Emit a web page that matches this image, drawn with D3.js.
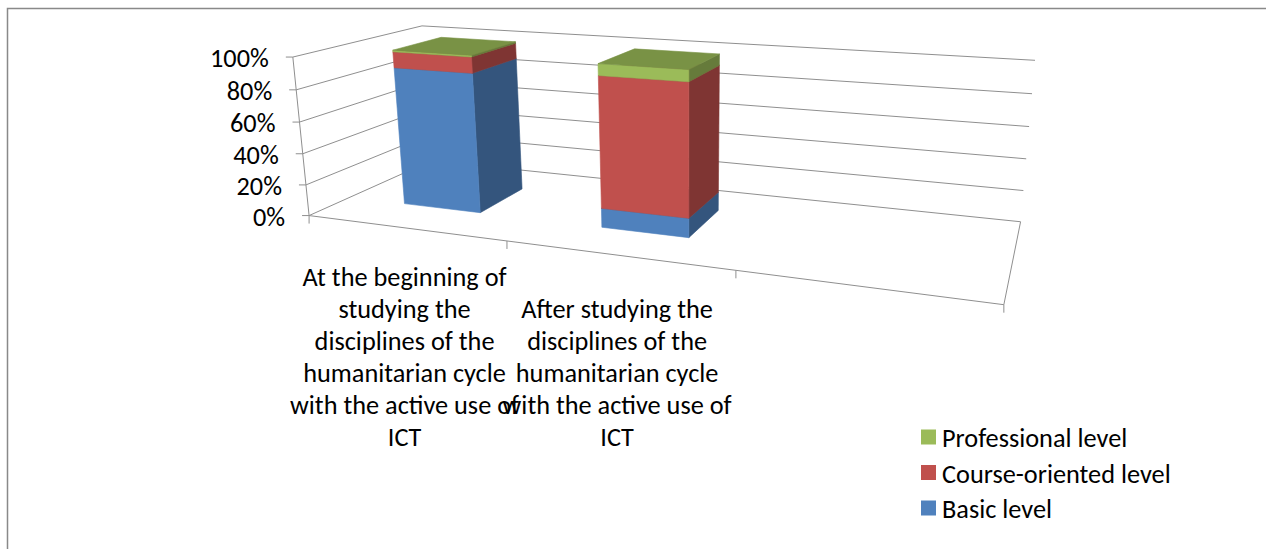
<!DOCTYPE html>
<html>
<head>
<meta charset="utf-8">
<script src="https://cdn.jsdelivr.net/npm/d3@7"></script>
<style>
  html, body { margin: 0; padding: 0; background: #fff; }
  svg { display: block; }
  text { font-family: Carlito, Calibri, Lato, sans-serif; fill: #000; }
</style>
</head>
<body>
<svg id="chart" width="1266" height="549"></svg>
<script>
(function () {
    'use strict';

    // categories (the third slot is empty in the original chart)
    var categories = [
        'At the beginning of\nstudying the\ndisciplines of the\nhumanitarian cycle\nwith the active use of\nICT',
        'After studying the\ndisciplines of the\nhumanitarian cycle\nwith the active use of\nICT',
        ''
    ];
    var seriesNames = ['Basic level', 'Course-oriented level', 'Professional level'];
    var basicLevel = [89, 12, 0];
    var courseLevel = [10, 81, 0];
    var professionalLevel = [1, 7, 0];
    var seriesColors = ['#4F81BD', '#C0504D', '#9BBB59'];
    var valueTicks = [0, 0.2, 0.4, 0.6, 0.8, 1];

    var width = 1266;
    var height = 549;
    var fontSize = 26.3;
    var gridColor = '#8f8f8f';

    var svg = d3.select('#chart');

    // screen positions of a few corners of the 3D plot box, used to fit the
    // perspective camera  [X (category slots), Y (0..1), Z (depth), px, py]
    var anchors = [
        [0, 0, 0, 310, 214],
        [0, 1, 0, 292, 57],
        [1, 0, 0, 508, 242],
        [2, 0, 0, 736, 272],
        [3, 0, 0, 1003, 305],
        [0, 0, 1, 430, 161],
        [0, 1, 1, 423, 27],
        [3, 1, 1, 1035, 60],
        [3, 0, 1, 1021, 221],
        [0, 0.6, 0, 299, 121],
        [3, 0.6, 1, 1029, 126]
    ];

    var P = fitProjection(anchors);

    function fitProjection(pairs) {
        var n = 11;
        var M = [];
        for (var i = 0; i < n; i++) {
            M.push(new Array(n + 1).fill(0));
        }
        function addRow(r, b) {
            for (var i = 0; i < n; i++) {
                for (var j = 0; j < n; j++) {
                    M[i][j] += r[i] * r[j];
                }
                M[i][n] += r[i] * b;
            }
        }
        pairs.forEach(function (p) {
            var X = p[0], Y = p[1], Z = p[2], u = p[3], v = p[4];
            addRow([X, Y, Z, 1, 0, 0, 0, 0, -u * X, -u * Y, -u * Z], u);
            addRow([0, 0, 0, 0, X, Y, Z, 1, -v * X, -v * Y, -v * Z], v);
        });
        // gauss elimination
        for (var c = 0; c < n; c++) {
            var piv = c;
            for (var r = c + 1; r < n; r++) {
                if (Math.abs(M[r][c]) > Math.abs(M[piv][c])) piv = r;
            }
            var tmp = M[c]; M[c] = M[piv]; M[piv] = tmp;
            for (var r2 = 0; r2 < n; r2++) {
                if (r2 === c) continue;
                var f = M[r2][c] / M[c][c];
                for (var k = c; k <= n; k++) M[r2][k] -= f * M[c][k];
            }
        }
        var sol = [];
        for (var s = 0; s < n; s++) sol.push(M[s][n] / M[s][s]);
        return sol;
    }

    function project(X, Y, Z) {
        var w = P[8] * X + P[9] * Y + P[10] * Z + 1;
        return [
            (P[0] * X + P[1] * Y + P[2] * Z + P[3]) / w,
            (P[4] * X + P[5] * Y + P[6] * Z + P[7]) / w
        ];
    }

    function drawLine(group, a, b, color) {
        var p = project(a[0], a[1], a[2]);
        var q = project(b[0], b[1], b[2]);
        group.append('line')
            .attr('x1', p[0]).attr('y1', p[1])
            .attr('x2', q[0]).attr('y2', q[1])
            .attr('stroke', color || gridColor)
            .attr('stroke-width', 1);
    }

    // scales
    var x = d3.scaleBand()
        .domain(categories)
        .range([0, categories.length])
        .paddingInner(0.6)
        .paddingOuter(0.3);
    var y = d3.scaleLinear().domain([0, 1]).range([0, 1]);
    var barZ0 = 0.3;
    var barZ1 = 0.7;
    var xMax = categories.length;

    var rows = categories.map(function (c, i) {
        var row = { category: c };
        row[seriesNames[0]] = basicLevel[i];
        row[seriesNames[1]] = courseLevel[i];
        row[seriesNames[2]] = professionalLevel[i];
        return row;
    });

    var stacked = d3.stack()
        .keys(seriesNames)
        .offset(d3.stackOffsetExpand)(rows);

    var color = d3.scaleOrdinal().domain(seriesNames).range(seriesColors);

    // chart frame
    svg.append('rect')
        .attr('x', 7.5).attr('y', 8.5)
        .attr('width', width + 40).attr('height', height + 40)
        .attr('fill', '#fff')
        .attr('stroke', '#898989')
        .attr('stroke-width', 1.5);

    // walls and floor
    var grid = svg.append('g');
    valueTicks.forEach(function (t) {
        drawLine(grid, [0, y(t), 0], [0, y(t), 1]);
        drawLine(grid, [0, y(t), 1], [xMax, y(t), 1]);
    });
    drawLine(grid, [0, 0, 0], [xMax, 0, 0]);
    drawLine(grid, [xMax, 0, 0], [xMax, 0, 1]);

    // value axis
    var axis = svg.append('g');
    drawLine(axis, [0, 0, 0], [0, 1, 0]);
    valueTicks.forEach(function (t) {
        var p = project(0, y(t), 0);
        axis.append('line')
            .attr('x1', p[0] - 7).attr('y1', p[1])
            .attr('x2', p[0]).attr('y2', p[1])
            .attr('stroke', gridColor);
        axis.append('text')
            .attr('x', p[0] - 24)
            .attr('y', p[1] + 1)
            .attr('text-anchor', 'end')
            .attr('dominant-baseline', 'central')
            .style('font-size', fontSize + 'px')
            .text(d3.format('.0%')(t));
    });

    // category ticks
    d3.range(xMax + 1).forEach(function (k) {
        var p = project(k, 0, 0);
        axis.append('line')
            .attr('x1', p[0]).attr('y1', p[1])
            .attr('x2', p[0]).attr('y2', p[1] + 8)
            .attr('stroke', gridColor);
    });

    // bars
    var bars = svg.append('g');
    function face(pts, fill) {
        var pp = pts.map(function (p) { return project(p[0], p[1], p[2]); });
        bars.append('path')
            .attr('d', 'M' + pp.map(function (p) { return p.join(','); }).join('L') + 'Z')
            .attr('fill', fill)
            .attr('stroke', fill)
            .attr('stroke-width', 0.6)
            .attr('stroke-linejoin', 'round');
    }

    categories.forEach(function (cat, j) {
        stacked.forEach(function (series) {
            var d = series[j];
            if (!(d[1] - d[0] > 0)) return;
            var x0 = x(cat), x1 = x0 + x.bandwidth();
            var y0 = y(d[0]), y1 = y(d[1]);
            var base = d3.rgb(color(series.key));
            var side = d3.rgb(base.r * 0.66, base.g * 0.66, base.b * 0.66);
            var top = d3.rgb(base.r * 0.78, base.g * 0.78, base.b * 0.78);
            face([[x1, y0, barZ0], [x1, y0, barZ1], [x1, y1, barZ1], [x1, y1, barZ0]], side.toString());
            face([[x0, y0, barZ0], [x1, y0, barZ0], [x1, y1, barZ0], [x0, y1, barZ0]], base.toString());
            face([[x0, y1, barZ0], [x1, y1, barZ0], [x1, y1, barZ1], [x0, y1, barZ1]], top.toString());
        });
    });

    // category labels, bottom aligned
    var labels = svg.append('g');
    var lineHeight = 32;
    var lastLineY = 437;
    categories.forEach(function (cat) {
        if (!cat) return;
        var lines = cat.split('\n');
        var p = project(x(cat) + x.bandwidth() / 2, 0, 0);
        var t = labels.append('text')
            .attr('text-anchor', 'middle')
            .style('font-size', fontSize + 'px');
        lines.forEach(function (ln, i) {
            t.append('tspan')
                .attr('x', p[0])
                .attr('y', lastLineY - (lines.length - 1 - i) * lineHeight)
                .attr('dominant-baseline', 'central')
                .text(ln);
        });
    });

    // legend
    var legend = svg.append('g');
    seriesNames.slice().reverse().forEach(function (name, i) {
        var cy = 437 + i * 35.5;
        legend.append('rect')
            .attr('x', 921).attr('y', cy - 7.5)
            .attr('width', 15).attr('height', 15)
            .attr('fill', color(name));
        legend.append('text')
            .attr('x', 942).attr('y', cy + 1)
            .attr('dominant-baseline', 'central')
            .style('font-size', fontSize + 'px')
            .text(name);
    });

}());
</script>
</body>
</html>
